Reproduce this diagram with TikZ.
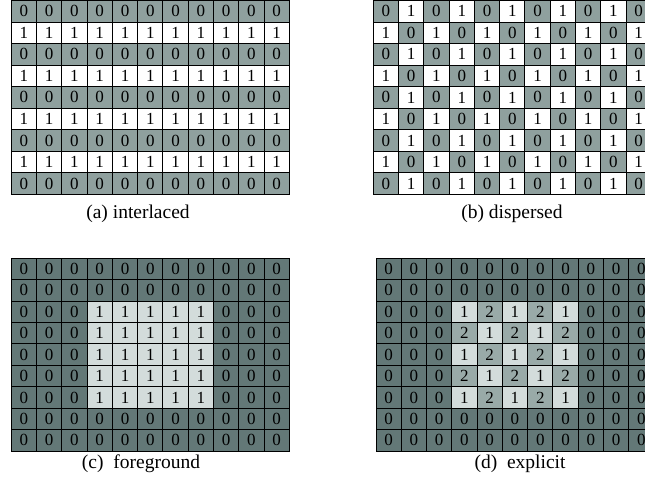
\documentclass[tikz,border=0pt]{standalone}
\usepackage{fontspec}
\setmainfont{Liberation Serif}
\definecolor{gA}{HTML}{8FA09E}
\definecolor{dk}{HTML}{637877}
\definecolor{lt}{HTML}{D3DCDB}
\definecolor{md}{HTML}{99AAA8}
\tikzset{
  cell/.style={draw=black, line width=1pt, minimum width=25.27pt, minimum height=21.5pt,
    inner sep=0pt, outer sep=0pt, font=\fontsize{17}{17}\selectfont, anchor=center},
  capt/.style={font=\fontsize{19.5}{20}\selectfont, inner sep=0pt}
}
\begin{document}
\begin{tikzpicture}[x=1pt,y=-1pt]
\useasboundingbox (0,0) rectangle (645,483);
\clip (0,0) rectangle (645,483);
% (a) interlaced
\foreach \r in {0,...,8}{\foreach \c in {0,...,10}{
  \pgfmathtruncatemacro\v{1-mod(\r+1,2)}
  \ifnum\v=0 \def\fc{gA}\else\def\fc{white}\fi
  \node[cell, fill=\fc] (a-\r-\c) at ({11.3+25.27*(\c+0.5)},{0.5+21.53*(\r+0.5)}) {\v};
}}
% (b) dispersed
\foreach \r in {0,...,8}{\foreach \c in {0,...,10}{
  \pgfmathtruncatemacro\v{mod(\r+\c,2)}
  \ifnum\v=0 \def\fc{gA}\else\def\fc{white}\fi
  \node[cell, fill=\fc] (b-\r-\c) at ({373.3+25.27*(\c+0.5)},{0.5+21.53*(\r+0.5)}) {\v};
}}
% (c) foreground
\foreach \r in {0,...,8}{\foreach \c in {0,...,10}{
  \pgfmathtruncatemacro\v{(\r>1)&&(\r<7)&&(\c>2)&&(\c<8)}
  \ifnum\v=0 \def\fc{dk}\else\def\fc{lt}\fi
  \node[cell, fill=\fc] (c-\r-\c) at ({11.3+25.27*(\c+0.5)},{258.3+21.41*(\r+0.5)}) {\v};
}}
% (d) explicit
\foreach \r in {0,...,8}{\foreach \c in {0,...,10}{
  \pgfmathtruncatemacro\inn{(\r>1)&&(\r<7)&&(\c>2)&&(\c<8)}
  \pgfmathtruncatemacro\v{\inn*(2-mod(\r+\c,2))}
  \ifcase\v \def\fc{dk}\or\def\fc{lt}\else\def\fc{md}\fi
  \node[cell, fill=\fc] (d-\r-\c) at ({376+25.27*(\c+0.5)},{258.3+21.41*(\r+0.5)}) {\v};
}}
\node[capt] (capa) at (138,214) {(a) interlaced};
\node[capt] (capb) at (512,214) {(b) dispersed};
\node[capt] (capc) at (141,464) {(c)\ \ foreground};
\node[capt] (capd) at (520,464) {(d)\ \ explicit};
\end{tikzpicture}
\end{document}
